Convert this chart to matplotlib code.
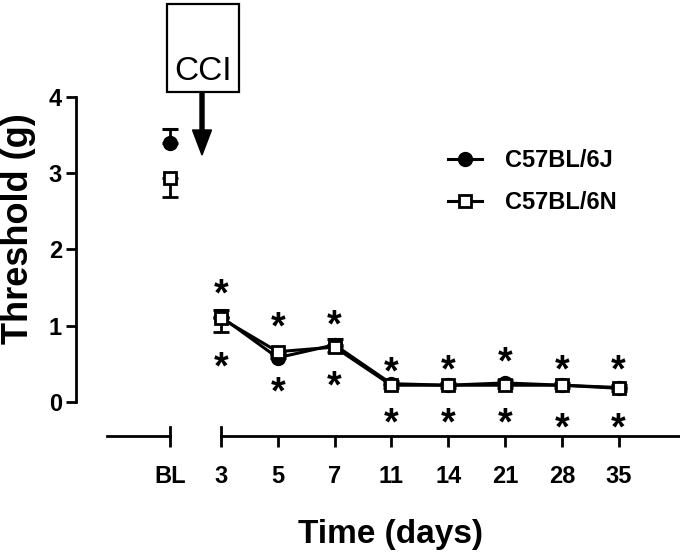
import numpy as np
import matplotlib
matplotlib.use("Agg")
import matplotlib.pyplot as plt
from matplotlib.patches import Rectangle, FancyArrow

plt.rcParams['font.family'] = ['Liberation Sans', 'DejaVu Sans']

# data
days = ['BL', '3', '5', '7', '11', '14', '21', '28', '35']
j_mean = [3.40, 1.12, 0.58, 0.75, 0.24, 0.22, 0.25, 0.22, 0.19]
j_err = [0.18, 0.08, 0.05, 0.07, 0.04, 0.03, 0.04, 0.03, 0.03]
n_mean = [2.94, 1.10, 0.66, 0.72, 0.22, 0.22, 0.22, 0.22, 0.18]
n_err = [0.25, 0.18, 0.05, 0.06, 0.04, 0.03, 0.03, 0.03, 0.03]
# asterisks above / below each post-CCI point (days 3..35)
star_hi = [1.51, 1.08, 1.10, 0.49, 0.51, 0.62, 0.52, 0.52]
star_lo = [0.55, 0.22, 0.30, -0.18, -0.18, -0.18, -0.24, -0.24]

x = np.r_[-0.9, np.arange(len(days) - 1)]

fig = plt.figure(figsize=(6.8, 5.56), dpi=100)
ax = fig.add_axes([76 / 680, 120 / 556, 604 / 680, 339 / 556])
ax.set_xlim(-2.55, 8.08)
ax.set_ylim(-0.446, 4.0)

zero = np.zeros(len(days))
# C57BL/6J : filled circles, error bars up
ax.errorbar(x[:1], j_mean[:1], yerr=[zero[:1], j_err[:1]], fmt='o', color='black',
            ms=10, capsize=6, capthick=2.2, elinewidth=2, clip_on=False, zorder=3)
eb_j = ax.errorbar(x[1:], j_mean[1:], yerr=[zero[1:], j_err[1:]], fmt='-o', color='black',
                   lw=2.2, ms=10, capsize=6, capthick=2.2, elinewidth=2, zorder=3)
# C57BL/6N : open squares, error bars down
ax.errorbar(x[:1], n_mean[:1], yerr=[n_err[:1], zero[:1]], fmt='s', color='black',
            mfc='white', mew=2, ms=9, capsize=6, capthick=2.2, elinewidth=2, zorder=4)
eb_n = ax.errorbar(x[1:], n_mean[1:], yerr=[n_err[1:], zero[1:]], fmt='-s', color='black',
                   mfc='white', mew=2, lw=2.2, ms=9, capsize=6, capthick=2.2, elinewidth=2,
                   zorder=4)

for xi, hi, lo in zip(x[1:], star_hi, star_lo):
    for yv in (hi, lo):
        ax.annotate('*', (xi, yv), xytext=(0, -13.5), textcoords='offset points',
                    ha='center', va='baseline', fontsize=27, fontweight='bold',
                    annotation_clip=False)

# axes styling
for s in ['top', 'right', 'bottom']:
    ax.spines[s].set_visible(False)
ax.spines['left'].set_bounds(0, 4)
ax.spines['left'].set_linewidth(2)
ax.set_yticks([0, 1, 2, 3, 4])
ax.set_xticks(x)
ax.set_xticklabels(days)
ax.tick_params(axis='y', length=7, width=2, pad=3, labelsize=17)
ax.tick_params(axis='x', length=8, width=2, pad=13, labelsize=17)
for lab in ax.get_xticklabels() + ax.get_yticklabels():
    lab.set_fontweight('bold')

# broken x axis
tr = ax.get_xaxis_transform()
ax.plot([-2.0, x[0]], [0, 0], color='black', lw=2, transform=tr, clip_on=False)
ax.plot([0, 8.08], [0, 0], color='black', lw=2, transform=tr, clip_on=False)
for xc in (x[0], 0):
    ax.plot([xc, xc], [0, 0.028], color='black', lw=2, transform=tr, clip_on=False)

fig.text(19 / 680, 1 - 229 / 556, 'Threshold (g)', rotation=90, ha='center',
         va='center', fontsize=26, fontweight='bold')
fig.text(391 / 680, 1 - 535 / 556, 'Time (days)', ha='center', va='center',
         fontsize=24, fontweight='bold')

ax.legend(handles=[eb_j.lines[0], eb_n.lines[0]], labels=['C57BL/6J', 'C57BL/6N'],
          loc='upper left', bbox_to_anchor=(448 / 680, 1 - 149 / 556),
          bbox_transform=fig.transFigure, frameon=False, borderpad=0,
          borderaxespad=0, handlelength=1.45, handletextpad=0.95,
          labelspacing=0.8, prop={'size': 17, 'weight': 'bold'})

# CCI box with arrow (figure pixel overlay)
ov = fig.add_axes([0, 0, 1, 1], facecolor='none')
ov.set_xlim(0, 680)
ov.set_ylim(556, 0)
ov.axis('off')
ov.add_patch(Rectangle((167, 4), 72, 88, fill=False, lw=1.6, ec='black'))
ov.text(203, 71, 'CCI', ha='center', va='center', fontsize=24)
ov.add_patch(FancyArrow(202, 92, 0, 63, width=4, head_width=19, head_length=25,
                        length_includes_head=True, color='black'))

fig.savefig('out.png', dpi=100)
